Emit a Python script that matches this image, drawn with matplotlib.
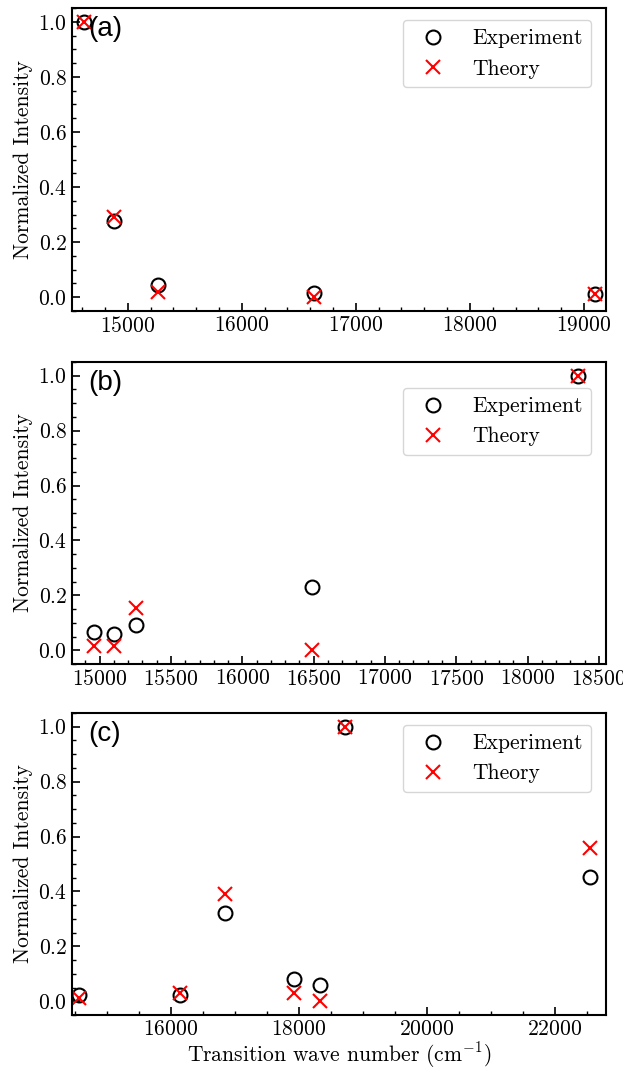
import matplotlib

matplotlib.use("Agg")
import matplotlib.pyplot as plt
from matplotlib.ticker import AutoMinorLocator

# panel (a)
a_wave = [14614, 14884, 15270, 16635, 19094]
a_exp = [1.0, 0.276, 0.045, 0.016, 0.013]
a_theory = [1.0, 0.292, 0.018, 0.002, 0.011]

# panel (b)
b_wave = [14958, 15098, 15256, 16492, 18357]
b_exp = [0.067, 0.058, 0.091, 0.230, 1.0]
b_theory = [0.016, 0.016, 0.155, 0.001, 1.0]

# panel (c)
c_wave = [14562, 16137, 16844, 17931, 18331, 18719, 22544]
c_exp = [0.024, 0.021, 0.323, 0.082, 0.058, 1.0, 0.452]
c_theory = [0.010, 0.030, 0.391, 0.030, 0.000, 1.0, 0.559]

panels = [
    ("(a)", a_wave, a_exp, a_theory, (14512, 19193), 0.960),
    ("(b)", b_wave, b_exp, b_theory, (14806, 18550), 0.914),
    ("(c)", c_wave, c_exp, c_theory, (14456, 22800), 0.960),
]

plt.rcParams["font.family"] = "serif"
plt.rcParams["font.serif"] = ["cmr10"]
plt.rcParams["mathtext.fontset"] = "cm"
plt.rcParams["axes.formatter.use_mathtext"] = True
FS = 15.5

fig = plt.figure(figsize=(6.23, 10.72), dpi=100)
boxes = [
    (0.1156, 0.7099, 0.8571, 0.2826),
    (0.1156, 0.3806, 0.8571, 0.2817),
    (0.1156, 0.0532, 0.8571, 0.2817),
]

for (label, wave, exp, theory, xlim, leg_top), box in zip(panels, boxes):
    ax = fig.add_axes(box)
    ax.plot(wave, exp, "o", mfc="none", mec="black", ms=10, mew=1.5,
            linestyle="none", label="Experiment")
    ax.plot(wave, theory, "x", color="red", ms=10, mew=1.5,
            linestyle="none", label="Theory")
    ax.set_xlim(*xlim)
    ax.set_ylim(-0.05, 1.05)
    ax.set_yticks([0.0, 0.2, 0.4, 0.6, 0.8, 1.0])
    ax.xaxis.set_minor_locator(AutoMinorLocator())
    ax.yaxis.set_minor_locator(AutoMinorLocator())
    ax.tick_params(which="both", direction="in", labelsize=FS)
    ax.tick_params(which="major", length=6, width=1.2)
    ax.tick_params(which="minor", length=3, width=1.0)
    for sp in ax.spines.values():
        sp.set_linewidth(1.5)
    ax.set_ylabel("Normalized Intensity", fontsize=FS)
    ax.legend(loc="upper right", bbox_to_anchor=(0.972, leg_top),
              borderaxespad=0, fontsize=FS)
    ax.text(0.03, 0.975, label, transform=ax.transAxes, ha="left", va="top",
            fontsize=20, family="Liberation Sans")

ax.set_xlabel("Transition wave number (cm$^{-1}$)", fontsize=FS, labelpad=1)

fig.savefig("out.png", dpi=100)
